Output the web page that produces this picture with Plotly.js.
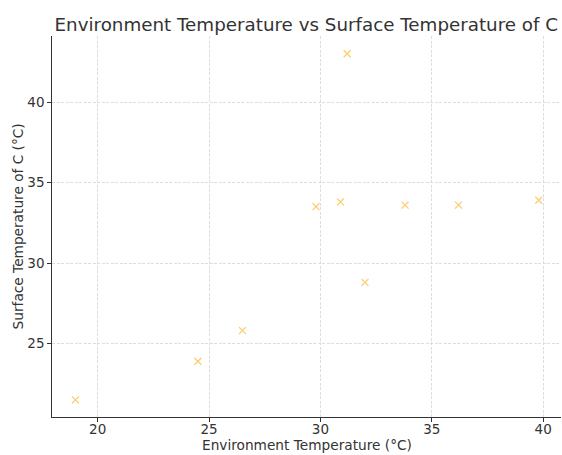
<!DOCTYPE html>
<html>
<head>
<meta charset="utf-8">
<script src="https://cdn.plot.ly/plotly-3.0.1.min.js"></script>
<style>html,body{margin:0;padding:0;background:#fff;}#chart{width:562px;height:455px;}</style>
</head>
<body>
<div id="chart"></div>
<script>
const envTemp = [19.0, 24.5, 26.5, 29.8, 30.9, 31.2, 32.0, 33.8, 36.2, 39.8];
const surfTemp = [21.5, 23.9, 25.8, 33.5, 33.8, 43.0, 28.8, 33.6, 33.6, 33.9];
const xTicks = [20, 25, 30, 35, 40];
const yTicks = [25, 30, 35, 40];
const xTitle = 'Environment Temperature (°C)';
const yTitle = 'Surface Temperature of C (°C)';

const font = 'DejaVu Sans, sans-serif';
const trace = {
  x: envTemp, y: surfTemp, type: 'scatter', mode: 'markers',
  marker: {symbol: 'x-thin-open', size: 7, color: 'rgba(255,165,0,0.6)', line: {color: 'rgba(255,165,0,0.6)', width: 1.2}},
  hoverinfo: 'none'
};
const axisCommon = {
  showline: true, linecolor: '#333', linewidth: 1.3, mirror: false,
  ticks: 'outside', ticklen: 3.5, tickcolor: '#333', tickwidth: 1,
  showgrid: true, gridcolor: '#d6d6d6', griddash: '3px,1.5px', gridwidth: 0.8,
  zeroline: false, tickfont: {family: font, size: 13.5, color: '#333'}
};
const layout = {
  width: 562, height: 455,
  margin: {l: 52, r: 1, t: 36, b: 38},
  paper_bgcolor: '#fff', plot_bgcolor: '#fff',
  showlegend: false,
  title: {text: 'Environment Temperature vs Surface Temperature of C', font: {family: font, size: 18.3, color: '#333'}, x: 0.545, xanchor: 'center', y: 0.947, yanchor: 'middle'},
  xaxis: Object.assign({}, axisCommon, {range: [17.95, 40.8], tickvals: xTicks, ticktext: xTicks.map(String), ticklabelstandoff: -4}),
  yaxis: Object.assign({}, axisCommon, {range: [20.44, 44.1], tickvals: yTicks, ticktext: yTicks.map(String)}),
  annotations: [
    {text: xTitle, xref: 'paper', yref: 'paper', x: 0.5, y: -0.074, xanchor: 'center', yanchor: 'middle', showarrow: false,
     font: {family: font, size: 13.7, color: '#333'}},
    {text: yTitle, xref: 'paper', yref: 'paper', x: -0.067, y: 0.5, xanchor: 'center', yanchor: 'middle', showarrow: false, textangle: -90,
     font: {family: font, size: 13.7, color: '#333'}}
  ]
};
Plotly.newPlot('chart', [trace], layout, {staticPlot: true, displayModeBar: false});
</script>
</body>
</html>
